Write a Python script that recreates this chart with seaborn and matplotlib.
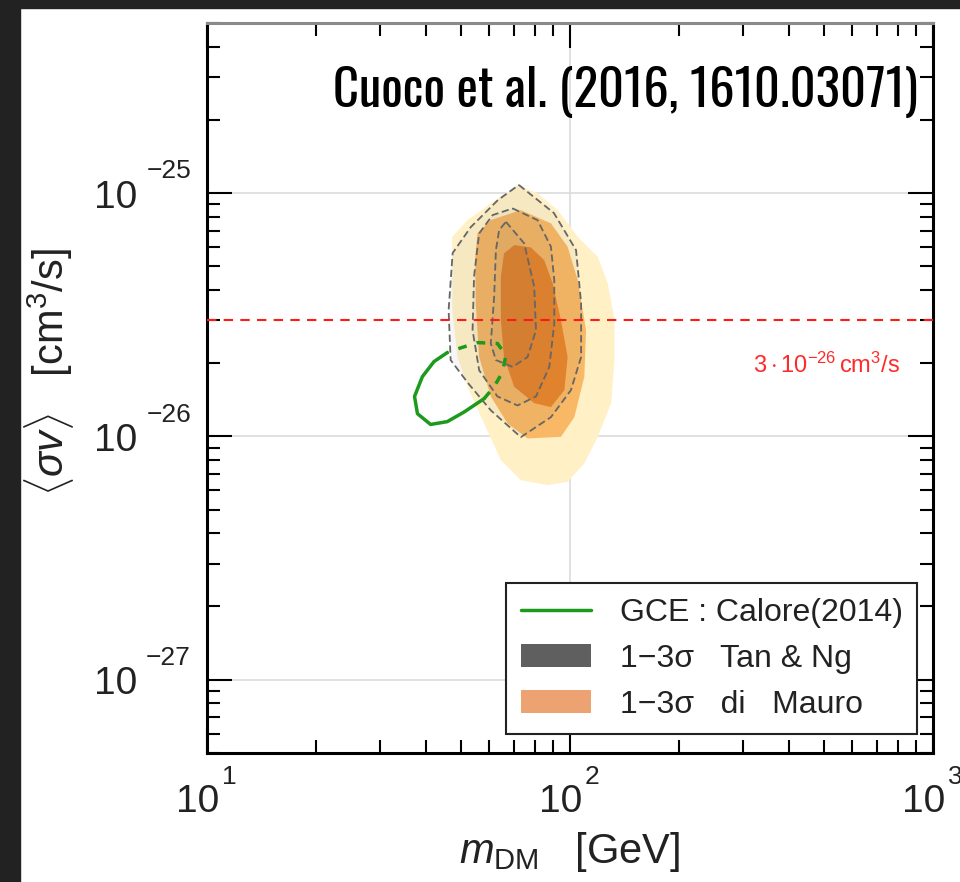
import numpy as np
import seaborn as sns
import matplotlib.pyplot as plt
from matplotlib import font_manager
from matplotlib.patches import Patch, Rectangle
from matplotlib.lines import Line2D
from matplotlib.ticker import NullFormatter

# dark matter mass [GeV] and <sigma v> [cm^3/s]
# GCE fit (Calore 2014): visible part and the part drawn over the contours
gce_m = [45.9, 42.2, 39.2, 37.3, 38.0, 41.3, 45.9, 51.1, 58.0]
gce_sv = [2.21e-26, 2.03e-26, 1.76e-26, 1.46e-26, 1.24e-26, 1.12e-26, 1.15e-26, 1.26e-26, 1.43e-26]
gce_hid_m = [58.0, 61.8, 65.2, 66.6, 63.1, 55.6, 49.5, 45.9]
gce_hid_sv = [1.43e-26, 1.60e-26, 1.84e-26, 2.16e-26, 2.41e-26, 2.43e-26, 2.30e-26, 2.21e-26]

# di Mauro 1-3 sigma regions
dm3_m = [71.7, 81.4, 92.5, 105.0, 119.3, 127.1, 132.6, 132.6, 129.8, 119.3, 109.5, 98.5,
         86.8, 73.2, 64.5, 58.0, 52.2, 49.0, 47.4, 47.4, 52.2, 60.5]
dm3_sv = [1.08e-25, 9.97e-26, 8.51e-26, 6.61e-26, 5.47e-26, 4.25e-26, 3.01e-26, 2.06e-26,
          1.37e-26, 9.96e-27, 7.74e-27, 6.51e-27, 6.31e-27, 6.61e-27, 7.99e-27, 1.13e-26,
          1.60e-26, 2.12e-26, 3.30e-26, 6.61e-26, 7.74e-26, 9.07e-26]
dm2_m = [55.6, 60.5, 73.2, 88.6, 98.5, 105.0, 110.7, 109.5, 102.8, 94.4, 76.4, 67.3,
         60.5, 56.2, 55.0, 54.8]
dm2_sv = [6.83e-26, 7.74e-26, 8.51e-26, 7.51e-26, 6.02e-26, 4.39e-26, 2.73e-26, 1.76e-26,
          1.20e-26, 9.96e-27, 9.81e-27, 1.13e-26, 1.46e-26, 2.12e-26, 3.52e-26, 5.47e-26]
dm1_m = [70.2, 78.0, 84.9, 89.6, 94.4, 98.5, 96.5, 88.6, 79.7, 70.2, 65.8, 64.5, 64.5, 65.8]
dm1_sv = [6.11e-26, 5.98e-26, 5.30e-26, 4.25e-26, 3.01e-26, 2.12e-26, 1.55e-26, 1.32e-26,
          1.37e-26, 1.60e-26, 2.12e-26, 3.01e-26, 4.53e-26, 5.65e-26]

# Tan & Ng 1-3 sigma contours
tn3_m = [72.3, 90.3, 103.9, 107.3, 107.3, 100.6, 88.6, 73.2, 60.5, 52.3, 46.9, 46.3, 47.5, 53.3, 63.3]
tn3_sv = [1.08e-25, 8.28e-26, 5.83e-26, 3.53e-26, 2.12e-26, 1.55e-26, 1.20e-26, 9.93e-27,
          1.28e-26, 1.66e-26, 2.06e-26, 3.30e-26, 5.67e-26, 7.25e-26, 9.36e-26]
tn2_m = [69.5, 81.4, 88.6, 90.5, 90.5, 87.7, 80.6, 71.7, 63.1, 56.2, 53.9, 54.4, 56.2, 61.2]
tn2_sv = [8.65e-26, 7.74e-26, 6.02e-26, 4.39e-26, 2.91e-26, 1.93e-26, 1.46e-26, 1.34e-26,
          1.46e-26, 1.87e-26, 2.73e-26, 4.53e-26, 6.83e-26, 8.12e-26]
tn1_m = [66.6, 74.8, 79.7, 80.6, 76.4, 69.5, 62.5, 60.5, 61.8, 62.5, 63.8]
tn1_sv = [7.62e-26, 6.21e-26, 4.12e-26, 2.73e-26, 2.12e-26, 1.93e-26, 2.06e-26, 2.41e-26,
          3.75e-26, 5.83e-26, 7.05e-26]

thermal_sv = 3e-26
x_ticks = [10, 100, 1000]
x_exps = ['1', '2', '3']
y_ticks = [1e-27, 1e-26, 1e-25]
y_exps = ['\u221227', '\u221226', '\u221225']
legend_labels = ['GCE : Calore(2014)', '1\u22123\u03c3   Tan & Ng', '1\u22123\u03c3   di   Mauro']

TXT = '#222222'
GREEN = '#1c9a1c'

sns.set_theme(style='ticks')
plt.rcParams['font.family'] = ['Liberation Sans', 'DejaVu Sans']
plt.rcParams['mathtext.fontset'] = 'custom'
plt.rcParams['mathtext.rm'] = 'Liberation Sans'
plt.rcParams['mathtext.it'] = 'Liberation Sans:italic'
plt.rcParams['mathtext.bf'] = 'Liberation Sans:bold'

fig = plt.figure(figsize=(9.6, 8.82), dpi=100, facecolor='white')
ax = fig.add_axes([207/960, 1 - 753/882, 726/960, 730/882])
ax.set_xscale('log')
ax.set_yscale('log')
ax.set_xlim(10, 1000)
ax.set_ylim(5e-28, 5e-25)
ax.set_facecolor('white')
ax.set_axisbelow(True)
ax.grid(True, which='major', color='#dcdcdc', lw=1.2)

# di Mauro filled regions
ax.fill(dm3_m, dm3_sv, color='#fff0c6', lw=0, zorder=2)
ax.fill(dm2_m, dm2_sv, color='#f8b865', lw=0, zorder=2)
ax.fill(dm1_m, dm1_sv, color='#e8842a', lw=0, zorder=2)

# Tan & Ng: faint grey fill + dashed outline
for cm, csv in [(tn3_m, tn3_sv), (tn2_m, tn2_sv), (tn1_m, tn1_sv)]:
    ax.fill(cm, csv, color='#606060', alpha=0.05, lw=0, zorder=3)
    sns.lineplot(x=cm + cm[:1], y=csv + csv[:1], sort=False, estimator=None,
                 color='#666666', lw=1.3, linestyle=(0, (4, 2)), ax=ax, zorder=4)

# GCE contour
sns.lineplot(x=gce_m, y=gce_sv, sort=False, estimator=None, color=GREEN, lw=2.5, ax=ax, zorder=5)
sns.lineplot(x=gce_hid_m, y=gce_hid_sv, sort=False, estimator=None, color=GREEN, lw=2.5,
             linestyle=(0, (2.5, 3)), ax=ax, zorder=5)

# thermal relic line
ax.axhline(thermal_sv, color='#ff1a1a', lw=1.5, dashes=(4.5, 3.5), zorder=6)
ax.text(0.9545, 1.96e-26, r'$3\cdot10^{-26}\,$cm$^{3}$/s', color='#ff2a2a', fontsize=17,
        ha='right', va='center', transform=ax.get_yaxis_transform())

# ticks
ax.tick_params(which='both', direction='in', top=True, right=True, color='black')
ax.tick_params(which='major', length=18, width=1.5)
ax.tick_params(which='minor', length=9.5, width=1.5)
for a in (ax.xaxis, ax.yaxis):
    a.set_major_formatter(NullFormatter())
    a.set_minor_formatter(NullFormatter())
for s in ax.spines.values():
    s.set_color('black')
    s.set_linewidth(2.2)
ax.spines['top'].set_color('#8a8a8a')

for v, e in zip(x_ticks, x_exps):
    ax.annotate('10', xy=(v, 0), xycoords=('data', 'axes fraction'), xytext=(8.6, -42.5),
                textcoords='offset points', ha='right', va='baseline', fontsize=28,
                color=TXT, annotation_clip=False)
    ax.annotate(e, xy=(v, 0), xycoords=('data', 'axes fraction'), xytext=(10.8, -22.3),
                textcoords='offset points', ha='left', va='baseline', fontsize=19,
                color=TXT, annotation_clip=False)
for v, e in zip(y_ticks, y_exps):
    ax.annotate('10', xy=(0, v), xycoords=('axes fraction', 'data'), xytext=(-50.4, -10.5),
                textcoords='offset points', ha='right', va='baseline', fontsize=28,
                color=TXT, annotation_clip=False)
    ax.annotate(e, xy=(0, v), xycoords=('axes fraction', 'data'), xytext=(-11.5, 10.5),
                textcoords='offset points', ha='right', va='baseline', fontsize=19,
                color=TXT, annotation_clip=False)

ax.set_xlabel(r'$m_{\mathrm{DM}}$   [GeV]', fontsize=30, color=TXT)
ax.set_ylabel(r'$\langle\sigma v\rangle$   [cm$^{3}$/s]', fontsize=30, color=TXT)
ax.xaxis.set_label_coords(0.5, -0.105)
ax.yaxis.set_label_coords(-0.18, 0.522)

handles = [Line2D([], [], color=GREEN, lw=2.5),
           Patch(facecolor='#5f5f5f', edgecolor='none'),
           Patch(facecolor='#eca371', edgecolor='none')]
leg = ax.legend(handles, legend_labels, loc='lower right', bbox_to_anchor=(1 - 16/726, 19/730),
                borderaxespad=0, fontsize=23, handlelength=2.2, handleheight=0.7,
                handletextpad=0.9, labelspacing=0.5, borderpad=0.45, fancybox=False,
                framealpha=1, edgecolor='#222222', labelcolor=TXT)
leg.get_frame().set_linewidth(1.5)
leg.set_zorder(10)

# dark border strips of the screenshot
fig.patches.append(Rectangle((0, 0), 20/960, 1, transform=fig.transFigure, color='#222222', zorder=0))
fig.patches.append(Rectangle((0, 1 - 8/882), 1, 8/882, transform=fig.transFigure, color='#222222', zorder=0))

# condensed bold credit line
have = {f.name for f in font_manager.fontManager.ttflist}
cands = ['Oswald', 'Bebas Neue', 'League Gothic', 'Roboto Condensed', 'Liberation Sans Narrow',
         'Open Sans Condensed', 'DejaVu Sans']
fam = [c for c in cands if c in have][:1] or ['DejaVu Sans']
title = fig.text(918/960, 1 - 92/882, 'Cuoco et al. (2016, 1610.03071)', ha='right', va='center',
                 family=fam, stretch='condensed', weight='heavy', fontsize=36, color='black', zorder=20)
fig.canvas.draw()
w = title.get_window_extent().width
title.set_fontsize(36 * 585 / w)

fig.savefig('out.png', dpi=100, facecolor='white')
